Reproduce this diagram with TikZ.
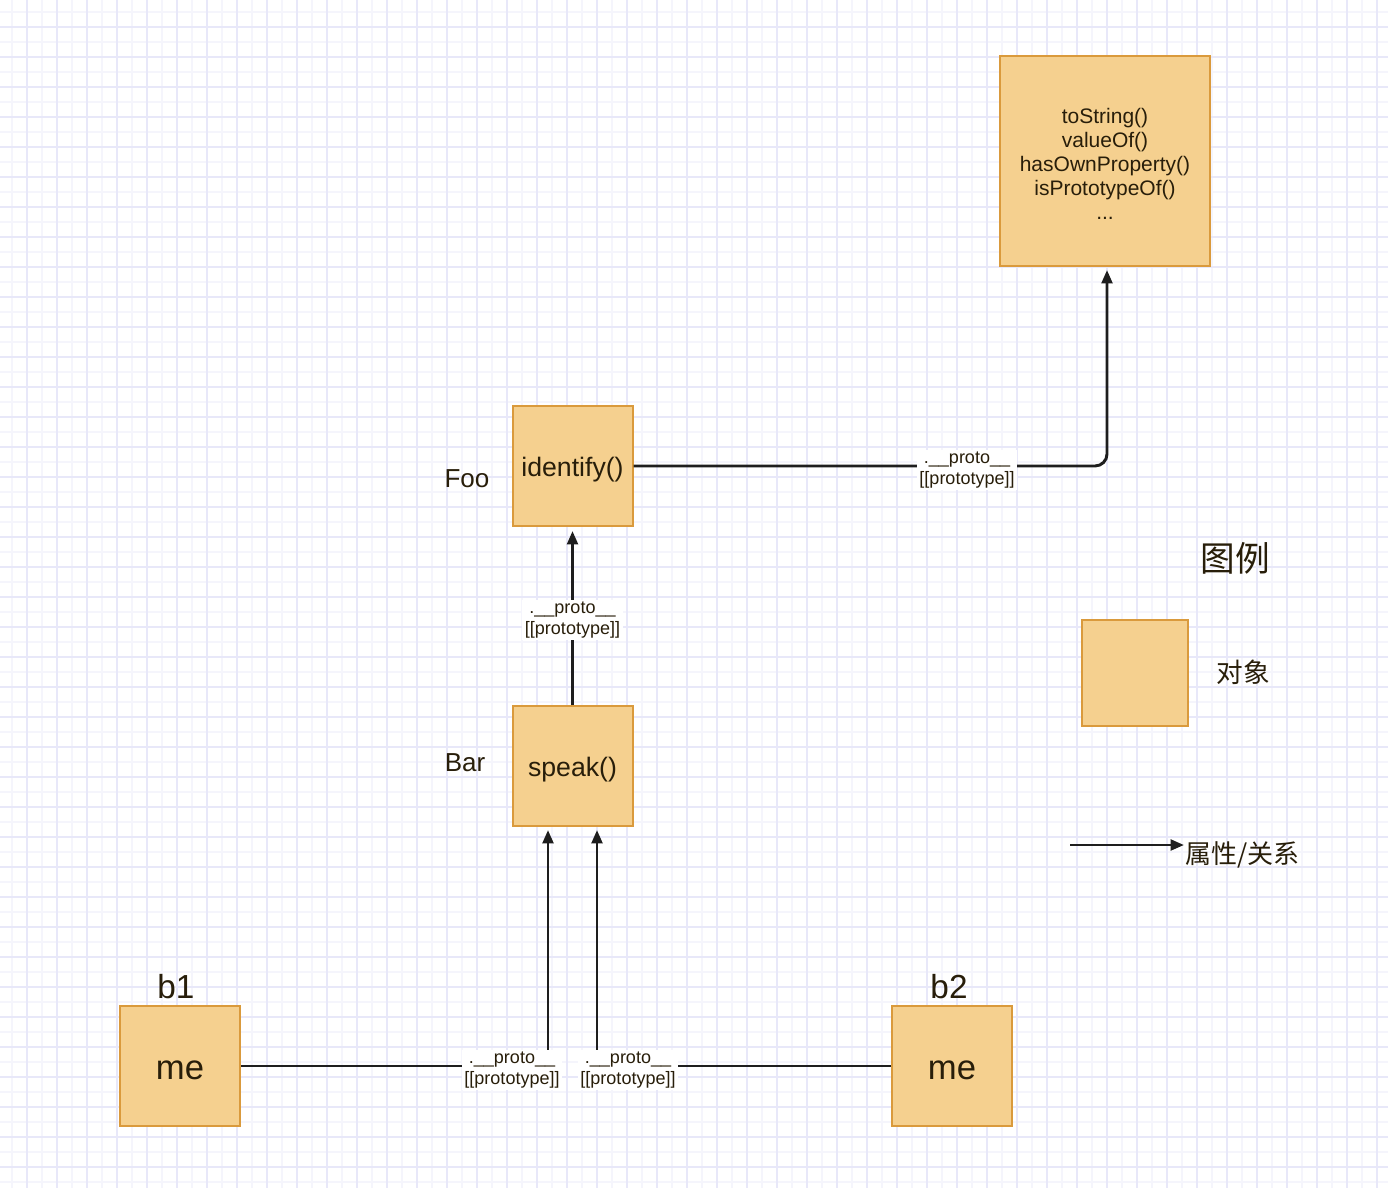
\documentclass[tikz,border=0pt]{standalone}
\usepackage{fontspec}
\setmainfont{Liberation Sans}
\newfontfamily\cjk{Noto Sans CJK SC}
\usetikzlibrary{arrows.meta}
\definecolor{boxfill}{RGB}{245,208,143}
\definecolor{boxline}{RGB}{218,154,60}
\definecolor{txt}{RGB}{40,30,10}
\definecolor{gridmaj}{RGB}{232,232,249}
\definecolor{gridmin}{RGB}{245,245,252}
\definecolor{connc}{RGB}{30,30,30}
\newcommand{\dn}[2]{\raisebox{-#1}[\height][\depth]{#2}}
\tikzset{
  objbox/.style={draw=boxline, fill=boxfill, line width=1.5pt, inner sep=0pt,
    minimum width=90pt, minimum height=90pt, text=txt,
    font=\fontsize{20}{24}\selectfont},
  conn/.style={draw=connc, line width=2.2pt},
  connarrow/.style={conn, -{Triangle[length=10pt,width=8pt]}, shorten >=3pt},
  protolbl/.style={fill=white, inner xsep=2pt, inner ysep=1pt, align=center,
    text=txt, font=\fontsize{13.5}{15.75}\selectfont},
  plain/.style={text=txt, inner sep=0pt}
}
\begin{document}
\begin{tikzpicture}[x=0.75pt,y=-0.75pt]
\useasboundingbox (0,0) rectangle (1388,1188);
\fill[white] (0,0) rectangle (1388,1188);
% grid
\foreach \g in {12,42,...,1388} {
  \draw[gridmin, line width=1.5pt] (\g,0) -- (\g,1188);
  \draw[gridmin, line width=1.5pt] (0,\g) -- (1388,\g);
}
\foreach \g in {27,57,...,1388} {
  \draw[gridmaj, line width=1.5pt] (\g,0) -- (\g,1188);
  \draw[gridmaj, line width=1.5pt] (0,\g) -- (1388,\g);
}

% objects
\node[objbox, minimum width=157.5pt, minimum height=157.5pt, align=center,
  font=\fontsize{15.75}{18}\selectfont] (objp) at (1105,161)
  {\dn{4.5pt}{\begin{tabular}{@{}c@{}}toString()\\valueOf()\\hasOwnProperty()\\isPrototypeOf()\\...\end{tabular}}};
\node[objbox] (foo) at (572.5,466) {\dn{3pt}{identify()}};
\node[objbox] (bar) at (572.5,766) {\dn{3pt}{speak()}};
\node[objbox, font=\fontsize{26}{30}\selectfont] (b1me) at (180,1066) {\dn{3pt}{me}};
\node[objbox, font=\fontsize{26}{30}\selectfont] (b2me) at (952,1066) {\dn{3pt}{me}};
\node[objbox, minimum width=79.5pt, minimum height=79.5pt] (legbox) at (1135,672.5) {};

% side labels
\node[plain, font=\fontsize{19.5}{23}\selectfont] (foolbl) at (467,479) {Foo};
\node[plain, font=\fontsize{19.5}{23}\selectfont] (barlbl) at (465,763) {Bar};
\node[plain, font=\fontsize{25}{30}\selectfont] (b1lbl) at (176,987) {b1};
\node[plain, font=\fontsize{25}{30}\selectfont] (b2lbl) at (949,987) {b2};
\node[plain, font=\fontsize{26}{30}\selectfont\cjk] (legtitle) at (1235,558) {图例};
\node[plain, font=\fontsize{20}{24}\selectfont\cjk] (legobj) at (1243,672) {对象};

% connector coordinates
\coordinate (objpin) at (1107,266);
\coordinate (barL) at (548,826);
\coordinate (barR) at (597,826);

% connectors
\draw[connarrow, rounded corners=9pt] (foo.east) -| (objpin);
\draw[connarrow] (bar.north) -- (foo.south);
\draw[connarrow] (b1me.east) -| (barL);
\draw[connarrow] (b2me.west) -| (barR);

% connector labels
\node[protolbl] (l1) at (967,470) {.\_\_proto\_\_\\{[[}prototype{]]}};
\node[protolbl] (l2) at (572.5,620) {.\_\_proto\_\_\\{[[}prototype{]]}};
\node[protolbl] (l3) at (512,1070) {.\_\_proto\_\_\\{[[}prototype{]]}};
\node[protolbl] (l4) at (628,1070) {.\_\_proto\_\_\\{[[}prototype{]]}};

% legend arrow
\coordinate (legA) at (1070,845);
\node[plain, anchor=west, font=\fontsize{19.5}{23}\selectfont\cjk] (legrel) at (1185,855) {属性/关系};
\draw[conn, -{Triangle[length=10pt,width=8pt]}] (legA) -- (1184,845);
\end{tikzpicture}
\end{document}
